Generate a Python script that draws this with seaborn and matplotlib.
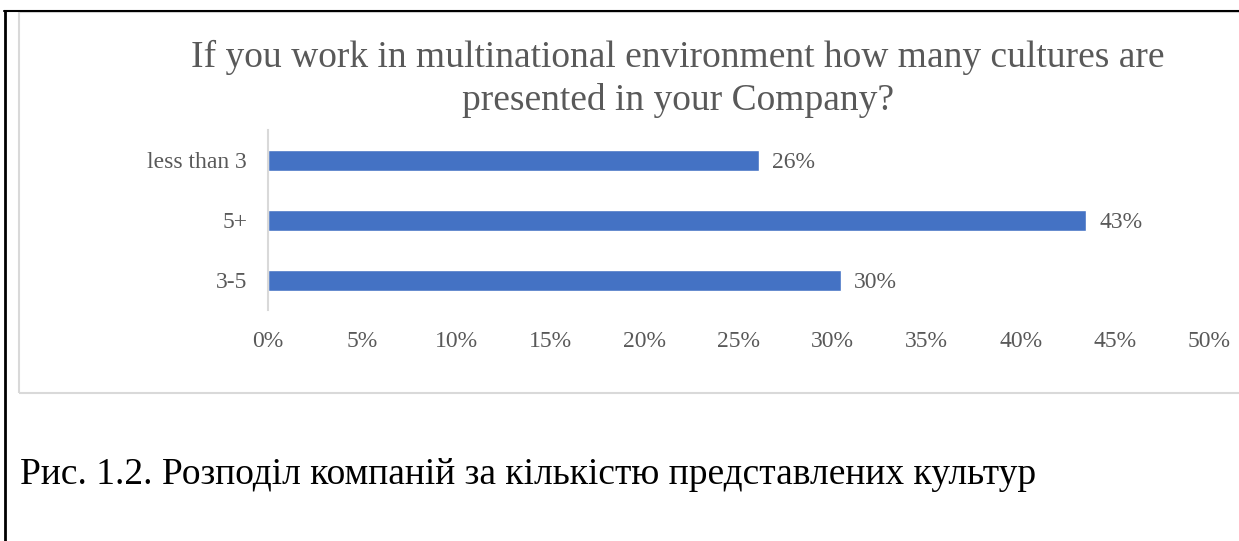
import matplotlib
matplotlib.use("Agg")
import matplotlib.pyplot as plt
from matplotlib.lines import Line2D
from matplotlib.patches import Rectangle
import seaborn as sns
import pandas as pd

# Survey answers: share of respondents (23 responses in total)
categories = ["less than 3", "5+", "3-5"]
shares = [26.09, 43.48, 30.43]
x_ticks = [0, 5, 10, 15, 20, 25, 30, 35, 40, 45, 50]

title = "If you work in multinational environment how many cultures are\npresented in your Company?"
caption = "Рис. 1.2. Розподіл компаній за кількістю представлених культур"

sns.set_theme(style="white")
plt.rcParams["font.family"] = ["Liberation Serif", "DejaVu Serif"]

W, H = 1239, 541
fig = plt.figure(figsize=(W / 100, H / 100), dpi=100)

def fx(px):
    return px / W

def fy(py):
    return 1 - py / H

# Plot area
ax_left, ax_right, ax_top, ax_bottom = 268, 1209, 130, 310
ax = fig.add_axes([fx(ax_left), fy(ax_bottom), fx(ax_right - ax_left), (ax_bottom - ax_top) / H])

df = pd.DataFrame({"category": categories, "share": shares})
sns.barplot(data=df, x="share", y="category", orient="h", color="#4472C4",
            width=0.35, saturation=1, ax=ax)

ax.set_xlim(0, 50)
ax.set_ylim(2.5, -0.5)
ax.set_xticks(x_ticks)
ax.set_xticklabels([f"{t}%" for t in x_ticks])
ax.set_xlabel("")
ax.set_ylabel("")
ax.tick_params(axis="x", length=0, pad=15, labelsize=17, labelcolor="#595959")
ax.tick_params(axis="y", length=0, pad=15, labelsize=17, labelcolor="#595959")
for side in ["top", "right", "bottom"]:
    ax.spines[side].set_visible(False)
ax.spines["left"].set_color("#D9D9D9")
ax.spines["left"].set_linewidth(1.5)
ax.grid(False)
ax.patch.set_alpha(0)

for patch, val in zip(ax.patches, shares):
    y = patch.get_y() + patch.get_height() / 2
    ax.text(val + 0.7, y, f"{val:.0f}%", va="center_baseline", ha="left",
            fontsize=17, color="#595959")

# Title
fig.text(fx(678), fy(79), title, ha="center", va="center", fontsize=27,
         color="#595959", linespacing=1.27)

# Chart frame (light gray)
fig.patches.append(Rectangle((fx(19), fy(393)), fx(1260 - 19), (393 - 12) / H,
                             transform=fig.transFigure, fill=False,
                             edgecolor="#D9D9D9", linewidth=1.5))

# Page border (black) on left and top
fig.lines.append(Line2D([fx(5), fx(5)], [0, fy(11)], transform=fig.transFigure,
                        color="black", linewidth=2))
fig.lines.append(Line2D([fx(4), 1], [fy(11), fy(11)], transform=fig.transFigure,
                        color="black", linewidth=1.5))

# Figure caption
fig.text(fx(20), fy(475), caption, ha="left", va="center", fontsize=27, color="black")

fig.savefig("out.png", dpi=100)
